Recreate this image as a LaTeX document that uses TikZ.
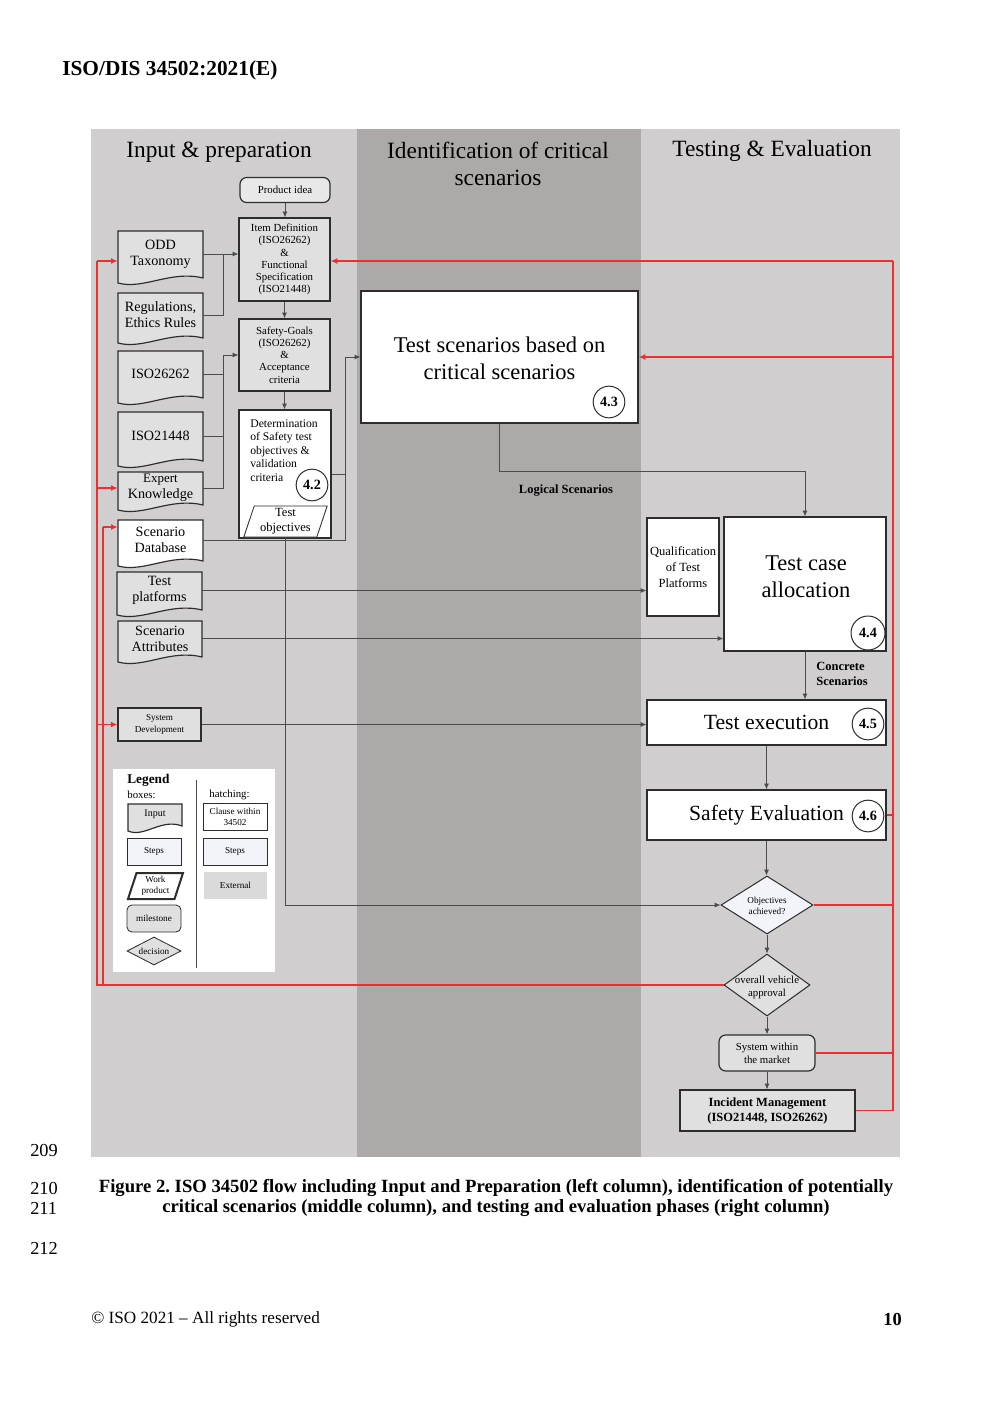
\documentclass[tikz,border=0pt]{standalone}
\usepackage{fontspec}
\setmainfont{Liberation Serif}
\usetikzlibrary{shapes.geometric,arrows.meta}
\frenchspacing

\definecolor{colside}{RGB}{208,206,207}
\definecolor{colmid}{RGB}{173,169,168}
\definecolor{inputgray}{RGB}{224,224,224}
\definecolor{milegray}{RGB}{232,232,232}
\definecolor{stepblue}{RGB}{242,244,250}
\definecolor{extgray}{RGB}{218,218,218}
\definecolor{edge}{RGB}{45,45,45}
\definecolor{fbred}{RGB}{236,48,48}

\newcommand{\fsz}[2]{\fontsize{#1}{#2}\selectfont}

% input document with a wavy lower edge: [fill]{name}{left}{top}{width}{height}{text}
\newcommand{\docbox}[7][inputgray]{%
  \pgfmathsetmacro{\dxr}{#3+#5}%
  \pgfmathsetmacro{\dyb}{#4+#6}%
  \pgfmathsetmacro{\dca}{#3+0.62*#5}%
  \pgfmathsetmacro{\dcb}{#3+0.3*#5}%
  \draw[draw=edge, line width=0.7pt, fill=#1] (#3,#4) -- (\dxr,#4) -- (\dxr,\dyb-5)
    .. controls (\dca,\dyb-13) and (\dcb,\dyb+7) .. (#3,\dyb) -- cycle;
  \node[doctext, minimum width=#5*0.6pt, minimum height=(#6-6)*0.6pt] (#2)
    at ({#3+0.5*#5},{#4+0.5*#6-3}) {#7};}

\tikzset{
  box/.style={draw=edge, line width=0.7pt, inner sep=0pt, align=center},
  doctext/.style={inner sep=0pt, align=center, font=\fsz{8.5pt}{9.6pt}},
  coltitle/.style={inner sep=0pt, align=center, font=\fsz{14pt}{16.2pt}},
  bigtext/.style={inner sep=0pt, align=center, font=\fsz{13.5pt}{16.2pt}},
  clause/.style={circle, draw=edge, line width=0.6pt, fill=white, minimum size=19pt,
    inner sep=0pt, font=\bfseries\fsz{8.5pt}{10pt}},
  workprod/.style={trapezium, trapezium left angle=72, trapezium right angle=108,
    trapezium stretches=true, draw=edge, fill=white, inner sep=0pt, align=center},
  flow/.style={edge!85, line width=0.5pt, -{Latex[length=3.5pt,width=3pt]}},
  wire/.style={edge!85, line width=0.5pt},
  fb/.style={fbred, line width=0.7pt},
  fbarrow/.style={fb, -{Latex[length=4pt,width=3.5pt]}},
}

\begin{document}
\begin{tikzpicture}[x=0.6pt, y=-0.6pt]
  \useasboundingbox (0,0) rectangle (992,1403);

  % page
  \node[anchor=west, inner sep=0pt, font=\bfseries\fsz{12.8pt}{14pt}] (header) at (62,70) {ISO/DIS 34502:2021(E)};

  % columns
  \fill[colside] (91,129) rectangle (357,1157);
  \fill[colmid] (357,129) rectangle (641,1157);
  \fill[colside] (641,129) rectangle (900,1157);
  \node[coltitle] (titleL) at (219,152) {Input \& preparation};
  \node[coltitle] (titleM) at (498,164) {Identification of critical\\scenarios};
  \node[coltitle] (titleR) at (772,151) {Testing \& Evaluation};

  % input & preparation
  \node[box, rounded corners=4pt, fill=milegray, minimum width=54pt, minimum height=15pt,
    font=\fsz{6.5pt}{7.3pt}] (idea) at (285,190) {Product idea};
  \node[box, fill=inputgray, minimum width=54.6pt, minimum height=49.8pt,
    font=\fsz{6.5pt}{7.3pt}] (itemdef) at (284.5,259.5)
    {Item Definition\\(ISO26262)\\\&\\Functional\\Specification\\(ISO21448)};
  \node[box, fill=inputgray, minimum width=54.6pt, minimum height=43.2pt,
    font=\fsz{6.5pt}{7.3pt}] (safety) at (284.5,355)
    {Safety-Goals\\(ISO26262)\\\&\\Acceptance\\criteria};
  \node[box, fill=white, minimum width=55.2pt, minimum height=76.8pt] (determ) at (285,474) {};
  \node[anchor=north west, inner sep=0pt, align=left, font=\fsz{7pt}{8.1pt}] (determtxt) at (250,419)
    {Determination\\of Safety test\\objectives \&\\validation\\criteria};
  \node[clause] (c42) at (312,485) {4.2};
  \node[workprod, line width=0.5pt, minimum width=50pt, minimum height=18.6pt,
    font=\fsz{7.5pt}{9pt}] (testobj) at (285.5,521.5) {Test\\objectives};

  \docbox{odd}{118}{231}{85}{52}{ODD\\Taxonomy}
  \docbox{regs}{118}{293}{85}{50}{Regulations,\\Ethics Rules}
  \docbox{isoA}{118}{351}{85}{52}{ISO26262}
  \docbox{isoB}{118}{412}{85}{54}{ISO21448}
  \docbox{expert}{118}{472}{85}{38}{\fsz{7.8pt}{8.6pt}Expert\\Knowledge}
  \docbox[white]{scendb}{118}{520}{85}{46}{Scenario\\Database}
  \docbox{testplat}{117}{572}{85}{43}{Test\\platforms}
  \docbox{scenattr}{118}{621}{84}{41}{Scenario\\Attributes}
  \node[box, fill=inputgray, minimum width=49.8pt, minimum height=19.8pt,
    font=\fsz{5.5pt}{7.5pt}] (sysdev) at (159.5,724.5) {System\\Development};

  % legend
  \fill[white] (113,769) rectangle (275,972);
  \draw[edge!85, line width=0.5pt] (196,780) -- (196,968);
  \node[anchor=west, inner sep=0pt, font=\bfseries\fsz{8pt}{9pt}] (legtitle) at (127,780) {Legend};
  \node[anchor=west, inner sep=0pt, font=\fsz{6.5pt}{7pt}] (legboxes) at (127,795) {boxes:};
  \node[anchor=west, inner sep=0pt, font=\fsz{6.5pt}{7pt}] (leghatch) at (209,795) {hatching:};
  \docbox{leginput}{128}{804}{54}{27}{\fsz{6pt}{7pt}Input}
  \node[box, fill=stepblue, line width=0.5pt, minimum width=32.4pt, minimum height=16.2pt,
    font=\fsz{5.5pt}{6.6pt}] (legsteps) at (154,851.5) {Steps};
  \node[workprod, line width=1.2pt, minimum width=33pt, minimum height=15.6pt,
    font=\fsz{5.5pt}{6.6pt}] (legwork) at (155.5,886) {Work\\product};
  \node[box, rounded corners=3pt, fill=inputgray, line width=0.5pt, minimum width=32.4pt,
    minimum height=16.2pt, font=\fsz{5.5pt}{6.6pt}] (legmile) at (154,918.5) {milestone};
  \node[diamond, draw=edge, fill=inputgray, line width=0.5pt, minimum width=32.4pt,
    minimum height=16.8pt, inner sep=0pt] (legdec) at (154,951) {};
  \node[inner sep=0pt, font=\fsz{5.5pt}{6.6pt}] (legdectxt) at (154,951) {decision};
  \node[box, fill=white, line width=0.5pt, minimum width=38.4pt, minimum height=16.2pt,
    font=\fsz{5.5pt}{6.6pt}] (legclause) at (235,816.5) {Clause within\\34502};
  \node[box, fill=stepblue, line width=0.5pt, minimum width=38.4pt, minimum height=16.2pt,
    font=\fsz{5.5pt}{6.6pt}] (legsteps2) at (235,851.5) {Steps};
  \node[fill=extgray, inner sep=0pt, minimum width=37.8pt, minimum height=16.2pt,
    font=\fsz{5.5pt}{6.6pt}] (legext) at (235.5,885.5) {External};

  % identification of critical scenarios
  \node[box, fill=white, minimum width=166.2pt, minimum height=79.2pt] (testscen) at (499.5,357) {};
  \node[bigtext] (testscentxt) at (499.5,358) {Test scenarios based on\\critical scenarios};
  \node[clause] (c43) at (609,402) {4.3};
  \node[inner sep=0pt, font=\bfseries\fsz{7.5pt}{9pt}] (logical) at (566,491) {Logical Scenarios};

  % testing & evaluation
  \node[box, fill=white, minimum width=43.2pt, minimum height=58.8pt,
    font=\fsz{7.5pt}{9.6pt}] (qual) at (683,567) {Qualification\\of Test\\Platforms};
  \node[box, fill=white, minimum width=97.2pt, minimum height=80.4pt] (tca) at (805,584) {};
  \node[bigtext] (tcatxt) at (806,576.5) {Test case\\allocation};
  \node[clause, minimum size=20.4pt] (c44) at (868,633) {4.4};
  \node[anchor=west, inner sep=0pt, align=left, font=\bfseries\fsz{7.5pt}{9pt}] (concrete)
    at (816,673.5) {Concrete\\Scenarios};
  \node[box, fill=white, minimum width=143.4pt, minimum height=27pt,
    font=\fsz{13pt}{15pt}] (texec) at (766.5,722.5) {Test execution};
  \node[clause] (c45) at (868,724) {4.5};
  \node[box, fill=white, minimum width=143.4pt, minimum height=30pt,
    font=\fsz{13pt}{15pt}] (safeval) at (766.5,815) {Safety Evaluation};
  \node[clause] (c46) at (868,816) {4.6};
  \node[diamond, draw=edge, fill=stepblue, line width=0.6pt, minimum width=55.2pt,
    minimum height=34.8pt, inner sep=0pt] (objdia) at (767,905) {};
  \node[inner sep=0pt, align=center, font=\fsz{5.5pt}{6.6pt}] (objtxt) at (767,905.5) {Objectives\\achieved?};
  \node[diamond, draw=edge, fill=inputgray, line width=0.6pt, minimum width=51.6pt,
    minimum height=37.2pt, inner sep=0pt] (appdia) at (767,985) {};
  \node[inner sep=0pt, align=center, font=\fsz{6.5pt}{7.8pt}] (apptxt) at (767,987) {overall vehicle\\approval};
  \node[box, rounded corners=4pt, fill=inputgray, minimum width=57.6pt, minimum height=21.6pt,
    font=\fsz{6.5pt}{7.8pt}] (market) at (767,1053) {System within\\the market};
  \node[box, fill=inputgray, minimum width=105pt, minimum height=24.6pt,
    font=\bfseries\fsz{7.5pt}{9pt}] (incident) at (767.5,1110.5) {Incident Management\\(ISO21448, ISO26262)};

  % bends
  \coordinate (busA) at (223,254);
  \coordinate (busB) at (223,355);
  \coordinate (busC) at (345,357);
  \coordinate (logbend) at (805,471);
  \coordinate (rtop) at (893,261);
  \coordinate (lbA) at (97,261);
  \coordinate (lbB) at (103,527);

  \begin{scope}[wire]
    \draw (regs.east) -| (busA);
    \draw (isoA.east) -| (busB);
    \draw (isoB.east) -| (busB);
    \draw (expert.east) -| (busB);
    \draw (scendb.east) -| (busC);
  \end{scope}
  \begin{scope}[flow]
    \draw (idea.south) to (idea.south |- itemdef.north);
    \draw (itemdef.south) to (itemdef.south |- safety.north);
    \draw (safety.south) to (safety.south |- determ.north);
    \draw (odd.east) to (odd.east -| itemdef.west);
    \draw (busB) to (busB -| safety.west);
    \draw (determ.east) -| (busC) -- (testscen.west);
    \draw (testobj.south) |- (objdia.west);
    \draw (testscen.south) |- (logbend) -- (tca.north);
    \draw (testplat.east) to (testplat.east -| qual.west);
    \draw (scenattr.east) to (scenattr.east -| tca.west);
    \draw (sysdev.east) to (sysdev.east -| texec.west);
    \draw (tca.south) to (tca.south |- texec.north);
    \draw (texec.south) to (texec.south |- safeval.north);
    \draw (safeval.south) to (safeval.south |- objdia.north);
    \draw (objdia.south) to (appdia.north);
    \draw (appdia.south) to (market.north);
    \draw (market.south) to (market.south |- incident.north);
  \end{scope}

  % feedback
  \begin{scope}[fb]
    \draw (incident.east) -| (rtop);
    \draw (safeval.east) -- (safeval.east -| rtop);
    \draw (objdia.east) -- (objdia.east -| rtop);
    \draw (market.east) -- (market.east -| rtop);
    \draw (appdia.west) -| (lbA);
    \draw (lbB |- appdia.west) -- (lbB);
  \end{scope}
  \begin{scope}[fbarrow]
    \draw (rtop) -- (rtop -| itemdef.east);
    \draw (testscen.east -| rtop) -- (testscen.east);
    \draw (lbA) -- (lbA -| odd.west);
    \draw (expert.west -| lbA) -- (expert.west);
    \draw (lbB) -- (lbB -| scendb.west);
    \draw (sysdev.west -| lbA) -- (sysdev.west);
  \end{scope}

  % caption and footer
  \node[anchor=west, inner sep=0pt, font=\fsz{11pt}{12pt}] (ln209) at (30,1150) {209};
  \node[anchor=west, inner sep=0pt, font=\fsz{11pt}{12pt}] (ln210) at (30,1188) {210};
  \node[anchor=west, inner sep=0pt, font=\fsz{11pt}{12pt}] (ln211) at (30,1208) {211};
  \node[anchor=west, inner sep=0pt, font=\fsz{11pt}{12pt}] (ln212) at (30,1248) {212};
  \node[inner sep=0pt, align=center, font=\bfseries\fsz{11.2pt}{12pt}] (caption) at (496,1198)
    {Figure 2. ISO 34502 flow including Input and Preparation (left column), identification of potentially\\
     critical scenarios (middle column), and testing and evaluation phases (right column)};
  \node[anchor=west, inner sep=0pt, font=\fsz{10.3pt}{12pt}] (footer) at (91,1319) {© ISO 2021 – All rights reserved};
  \node[anchor=east, inner sep=0pt, font=\bfseries\fsz{11pt}{12pt}] (pageno) at (902,1319) {10};
\end{tikzpicture}
\end{document}
